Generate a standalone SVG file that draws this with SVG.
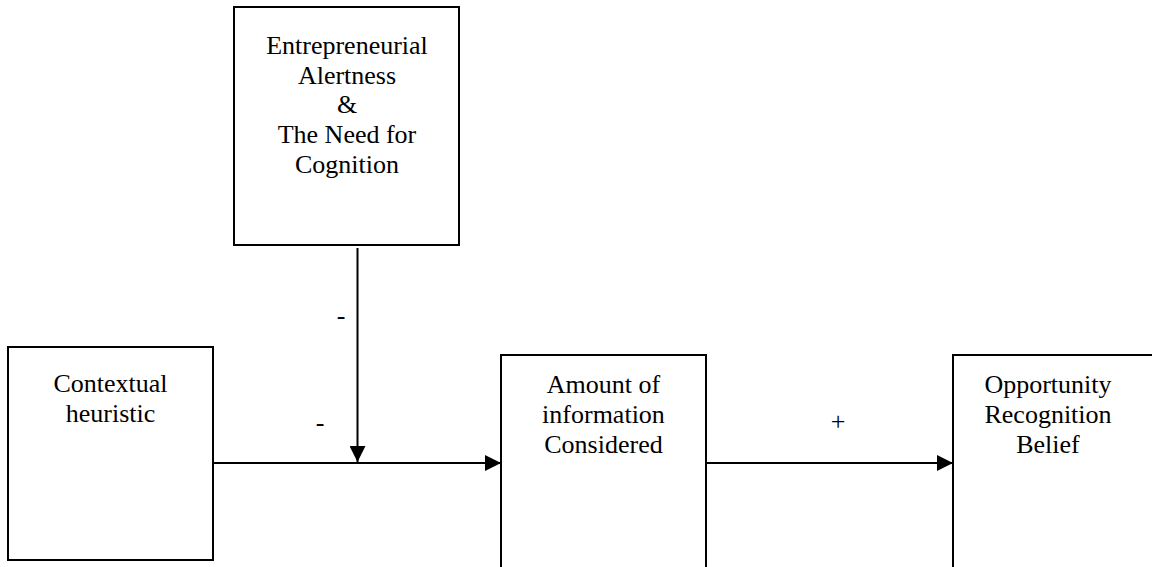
<svg xmlns="http://www.w3.org/2000/svg" width="1152" height="567" viewBox="0 0 1152 567">
<style>
.box{fill:#fff;stroke:#000;stroke-width:2}
.t{font-family:'Liberation Serif','DejaVu Serif',serif;font-size:26px;fill:#000;text-anchor:middle}
.c{stroke:#000;stroke-width:2;fill:none}
</style>
<defs>
<marker id="ah" markerUnits="userSpaceOnUse" markerWidth="16" markerHeight="16" viewBox="0 0 16 16" refX="16" refY="8" orient="auto">
<path d="M0,0 L16,8 L0,16 Z" fill="#000"/>
</marker>
</defs>
<rect width="1152" height="567" fill="#fff"/>
<g id="node-alertness">
<rect class="box" x="234" y="7" width="225" height="238"/>
<text class="t" x="347" y="54">Entrepreneurial</text>
<text class="t" x="347" y="84">Alertness</text>
<text class="t" x="347" y="113">&amp;</text>
<text class="t" x="347" y="143">The Need for</text>
<text class="t" x="347" y="173">Cognition</text>
</g>
<g id="node-contextual">
<rect class="box" x="8" y="347" width="205" height="213"/>
<text class="t" x="110.5" y="392">Contextual</text>
<text class="t" x="110.5" y="422">heuristic</text>
</g>
<g id="node-amount">
<rect class="box" x="501" y="355" width="205" height="230"/>
<text class="t" x="603.5" y="393">Amount of</text>
<text class="t" x="603.5" y="423">information</text>
<text class="t" x="603.5" y="453">Considered</text>
</g>
<g id="node-opportunity">
<rect class="box" x="953" y="355" width="205" height="230"/>
<text class="t" x="1048" y="393">Opportunity</text>
<text class="t" x="1048" y="423">Recognition</text>
<text class="t" x="1048" y="453">Belief</text>
</g>
<g id="connectors">
<line class="c" x1="213" y1="463" x2="501" y2="463" marker-end="url(#ah)"/>
<line class="c" x1="706" y1="463" x2="953" y2="463" marker-end="url(#ah)"/>
<line class="c" x1="357.5" y1="248" x2="357.5" y2="462" marker-end="url(#ah)"/>
<text class="t" x="341" y="324">-</text>
<text class="t" x="320" y="431">-</text>
<text class="t" x="838" y="430">+</text>
</g>
</svg>
